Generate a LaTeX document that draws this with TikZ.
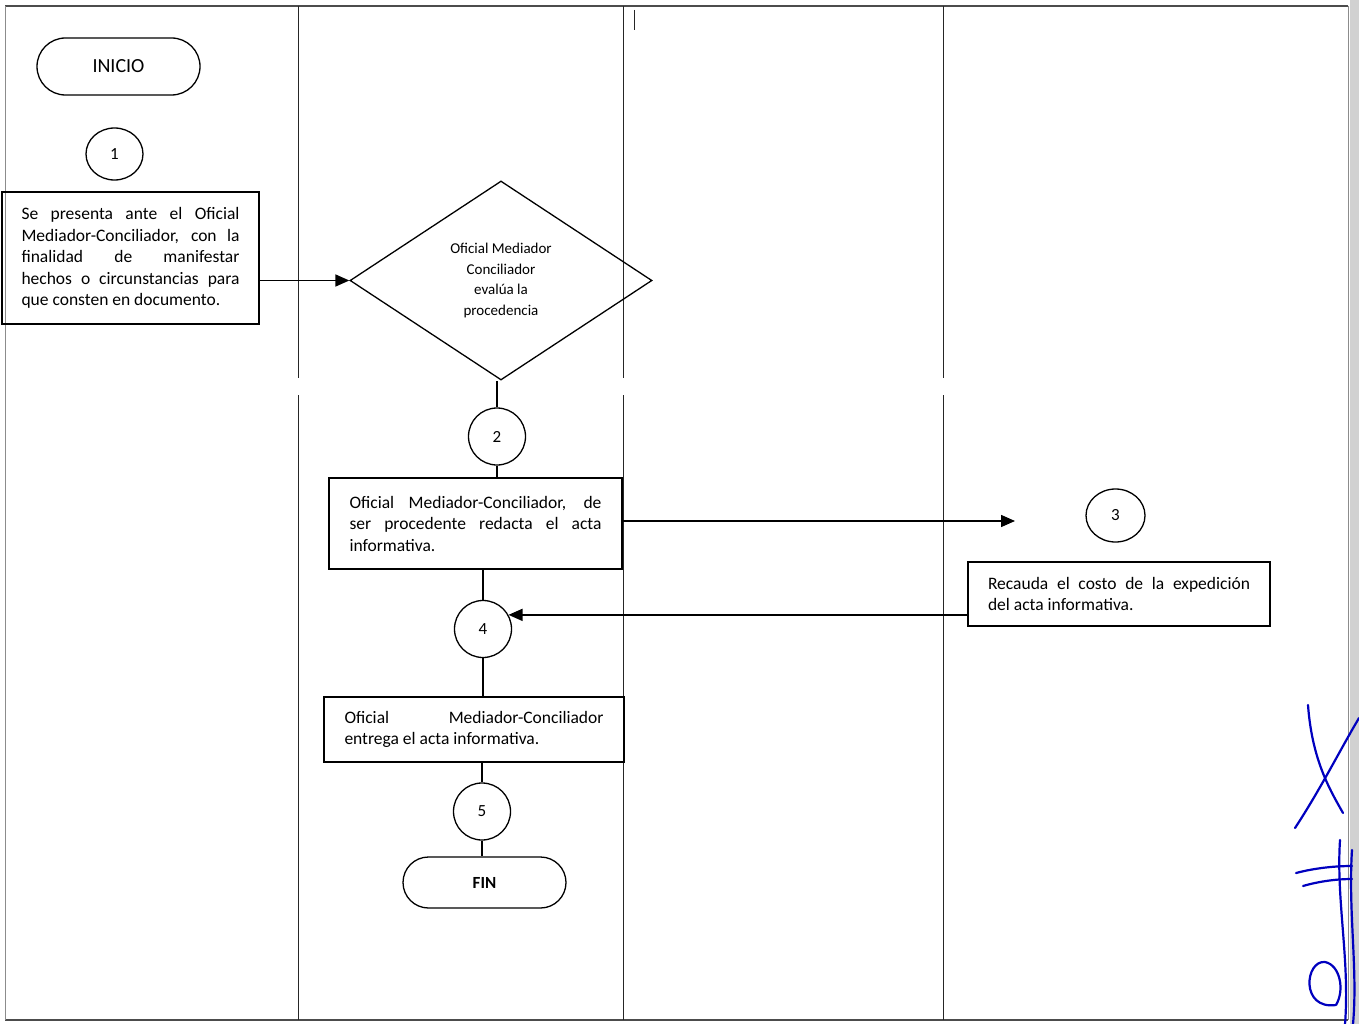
\documentclass[tikz,border=0pt]{standalone}
\usepackage{fontspec}
\setmainfont{Carlito}
\usetikzlibrary{arrows.meta,shapes.geometric,shapes.misc}
\begin{document}
\begin{tikzpicture}[x=1pt,y=-1pt,
  lane/.style={black!85, line width=0.9pt},
  border/.style={black!45, line width=0.8pt},
  shp/.style={draw, line width=1.3pt},
  box/.style={shp, rectangle, inner sep=0pt, align=justify,
    font=\fontsize{17.5}{21.5}\selectfont},
  term/.style={shp, rounded rectangle, inner sep=0pt},
  num/.style={shp, circle, minimum size=57pt, inner sep=0pt, font=\fontsize{17}{19}\selectfont},
  conn/.style={line width=1.2pt},
  arr/.style={line width=1.5pt, -{Triangle[length=14pt,width=12pt]}},
  sig/.style={draw=blue!75!black, line width=2.2pt, line cap=round}
]
\useasboundingbox (0,0) rectangle (1359,1024);
\fill[white] (0,0) rectangle (1359,1024);
\fill[black!18] (1350,0) rectangle (1359,1024);
% frame and lanes
\draw[black!70, line width=1.2pt] (5,6) -- (1348,6);
\draw[black!70, line width=1.2pt] (5,1020) -- (1348,1020);
\draw[border] (5,6) -- (5,1020);
\draw[border] (1348,6) -- (1348,1020);
\foreach \xx in {298,623,943}{
  \draw[lane] (\xx,6) -- (\xx,378);
  \draw[lane] (\xx,395) -- (\xx,1020);
}
\draw[lane] (634,10) -- (634,30);

% nodes
\node[term, minimum width=163pt, minimum height=57pt, font=\fontsize{20}{22}\selectfont] (inicio) at (118.5,66.5) {INICIO};
\node[num, minimum width=57pt, minimum height=52pt, ellipse] (c1) at (114.5,154) {1};
\node[box, minimum width=257pt, minimum height=132pt, text width=218pt] (box1) at (130.5,258)
  {Se presenta ante el Oficial\linebreak Mediador-Conciliador, con la\linebreak finalidad de manifestar\linebreak hechos o circunstancias para\linebreak que consten en documento.};
\node[shp, diamond, minimum width=302pt, minimum height=199pt, inner sep=0pt, align=center,
  font=\fontsize{15}{20.5}\selectfont] (dia) at (501,280.5)
  {Oficial Mediador\\Conciliador\\evalúa la\\procedencia};
\node[num] (c2) at (497,436.5) {2};
\node[box, minimum width=293pt, minimum height=91pt, text width=252pt] (box2) at (475.5,523.5)
  {Oficial Mediador-Conciliador, de\linebreak ser procedente redacta el acta\linebreak informativa.};
\node[num, ellipse, minimum width=59pt, minimum height=53pt] (c3) at (1115.5,515.5) {3};
\node[box, minimum width=302pt, minimum height=64pt, text width=262pt] (box3) at (1119,594)
  {Recauda el costo de la expedición\linebreak del acta informativa.};
\node[num] (c4) at (483,629) {4};
\node[box, minimum width=300pt, minimum height=65pt, text width=259pt] (box4) at (474,729.5)
  {Oficial Mediador-Conciliador\linebreak entrega el acta informativa.};
\node[num] (c5) at (482,811.5) {5};
\node[term, minimum width=163pt, minimum height=51pt, font=\fontsize{17}{19}\selectfont\bfseries] (fin) at (484.5,882.5) {FIN};

\coordinate (a3) at (1015,521);

% connectors
\draw[arr] (box1.east |- dia.west) -- (dia.west);
\draw[conn] (c2.north) -- (c2.north |- dia.south);
\draw[conn] (c2.south) -- (c2.south |- box2.north);
\draw[arr] (box2.east |- a3) -- (a3);
\draw[conn] (c4.north |- box2.south) -- (c4.north);
\draw[arr] (box3.west |- c4.29) -- (c4.29);
\draw[conn] (c4.south) -- (c4.south |- box4.north);
\draw[conn] (c5.north |- box4.south) -- (c5.north);
\draw[conn] (c5.south) -- (c5.south |- fin.north);

% signature strokes
\draw[sig] (1308,705) .. controls (1312,760) and (1330,790) .. (1343,813);
\draw[sig] (1295,828) .. controls (1320,790) and (1340,750) .. (1359,718);
\draw[sig] (1296,873) .. controls (1315,868) and (1335,866) .. (1352,866);
\draw[sig] (1303,886) .. controls (1320,881) and (1338,879) .. (1352,879);
\draw[sig] (1340,840) .. controls (1336,900) and (1350,960) .. (1345,1024);
\draw[sig] (1352,850) .. controls (1348,910) and (1358,970) .. (1353,1024);
\draw[sig] (1336,1005) .. controls (1300,1010) and (1305,960) .. (1325,962)
  .. controls (1340,965) and (1345,990) .. (1336,1005);
\end{tikzpicture}
\end{document}
